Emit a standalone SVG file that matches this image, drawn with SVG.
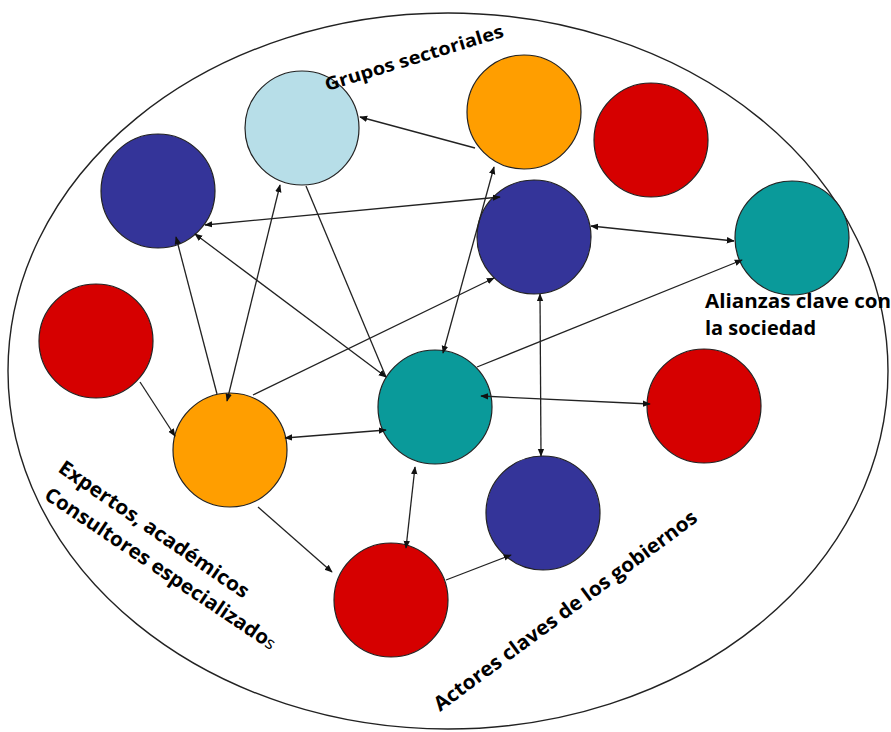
<svg xmlns="http://www.w3.org/2000/svg" width="891" height="732" viewBox="0 0 891 732">
<style>
.n{stroke:#222;stroke-width:1.2}
.c{stroke:#222;stroke-width:1.3;fill:none}
.t{font-family:"Open Sans","Liberation Sans",sans-serif;font-weight:bold;fill:#000}
</style>
<defs>
<marker id="ah" viewBox="0 0 10 10" refX="9" refY="5" markerWidth="8" markerHeight="8" markerUnits="userSpaceOnUse" orient="auto-start-reverse">
<path d="M0,1 L10,5 L0,9 z" fill="#111"/>
</marker>
</defs>
<rect width="891" height="732" fill="#fff"/>
<ellipse id="boundary" cx="448" cy="371" rx="440" ry="358" fill="none" stroke="#222" stroke-width="1.4"/>
<g id="nodes">
<g id="n-lightblue"><ellipse class="n" cx="302" cy="128" rx="57" ry="57" fill="#B7DEE8"/></g>
<g id="n-orange-top"><ellipse class="n" cx="524" cy="112" rx="57" ry="57" fill="#FF9E00"/></g>
<g id="n-red-top"><ellipse class="n" cx="651" cy="140" rx="57" ry="57" fill="#D60000"/></g>
<g id="n-blue-topleft"><ellipse class="n" cx="158" cy="191" rx="57" ry="57" fill="#343499"/></g>
<g id="n-blue-mid"><ellipse class="n" cx="534" cy="237" rx="57" ry="57" fill="#343499"/></g>
<g id="n-teal-right"><ellipse class="n" cx="792" cy="238" rx="57" ry="57" fill="#0A9A9A"/></g>
<g id="n-red-left"><ellipse class="n" cx="96" cy="341" rx="57" ry="57" fill="#D60000"/></g>
<g id="n-teal-center"><ellipse class="n" cx="435" cy="407" rx="57" ry="57" fill="#0A9A9A"/></g>
<g id="n-red-right"><ellipse class="n" cx="704" cy="406" rx="57" ry="57" fill="#D60000"/></g>
<g id="n-orange-left"><ellipse class="n" cx="230" cy="450" rx="57" ry="57" fill="#FF9E00"/></g>
<g id="n-blue-bottom"><ellipse class="n" cx="543" cy="513" rx="57" ry="57" fill="#343499"/></g>
<g id="n-red-bottom"><ellipse class="n" cx="391" cy="600" rx="57" ry="57" fill="#D60000"/></g>
</g>
<g id="connectors">
<line class="c" x1="475" y1="148" x2="360" y2="117" marker-end="url(#ah)"/>
<line class="c" x1="205" y1="225" x2="500" y2="197" marker-start="url(#ah)" marker-end="url(#ah)"/>
<line class="c" x1="591" y1="226" x2="734" y2="241" marker-start="url(#ah)" marker-end="url(#ah)"/>
<line class="c" x1="280" y1="185" x2="227" y2="401" marker-start="url(#ah)" marker-end="url(#ah)"/>
<line class="c" x1="217" y1="394" x2="176" y2="237" marker-end="url(#ah)"/>
<line class="c" x1="306" y1="186" x2="386" y2="377"/>
<line class="c" x1="195" y1="234" x2="386" y2="377" marker-start="url(#ah)" marker-end="url(#ah)"/>
<line class="c" x1="253" y1="395" x2="494" y2="278" marker-end="url(#ah)"/>
<line class="c" x1="477" y1="367" x2="742" y2="260" marker-end="url(#ah)"/>
<line class="c" x1="443" y1="353" x2="494" y2="167" marker-start="url(#ah)" marker-end="url(#ah)"/>
<line class="c" x1="540" y1="294" x2="541" y2="456" marker-start="url(#ah)" marker-end="url(#ah)"/>
<line class="c" x1="481" y1="396" x2="650" y2="404" marker-start="url(#ah)" marker-end="url(#ah)"/>
<line class="c" x1="285" y1="438" x2="386" y2="430" marker-start="url(#ah)" marker-end="url(#ah)"/>
<line class="c" x1="140" y1="382" x2="175" y2="436" marker-end="url(#ah)"/>
<line class="c" x1="258" y1="507" x2="332" y2="572" marker-end="url(#ah)"/>
<line class="c" x1="406" y1="548" x2="415" y2="467" marker-start="url(#ah)" marker-end="url(#ah)"/>
<line class="c" x1="446" y1="580" x2="511" y2="555" marker-end="url(#ah)"/>
</g>
<g id="labels">
<text class="t" font-size="18" transform="translate(327,91) rotate(-17)" textLength="186" lengthAdjust="spacingAndGlyphs">Grupos sectoriales</text>
<text class="t" font-size="19" x="705" y="308" textLength="186" lengthAdjust="spacingAndGlyphs">Alianzas clave con</text>
<text class="t" font-size="19" x="705" y="335" textLength="111" lengthAdjust="spacingAndGlyphs">la sociedad</text>
<text class="t" font-size="20" transform="translate(57,471) rotate(34.5)" textLength="226" lengthAdjust="spacingAndGlyphs">Expertos, académicos</text>
<text class="t" font-size="20" transform="translate(43,498) rotate(33.8)" textLength="274" lengthAdjust="spacingAndGlyphs">Consultores especializado<tspan font-weight="normal" font-size="17">s</tspan></text>
<text class="t" font-size="20" transform="translate(440,712) rotate(-36.5)" textLength="322" lengthAdjust="spacingAndGlyphs">Actores claves de los gobiernos</text>
</g>
</svg>
